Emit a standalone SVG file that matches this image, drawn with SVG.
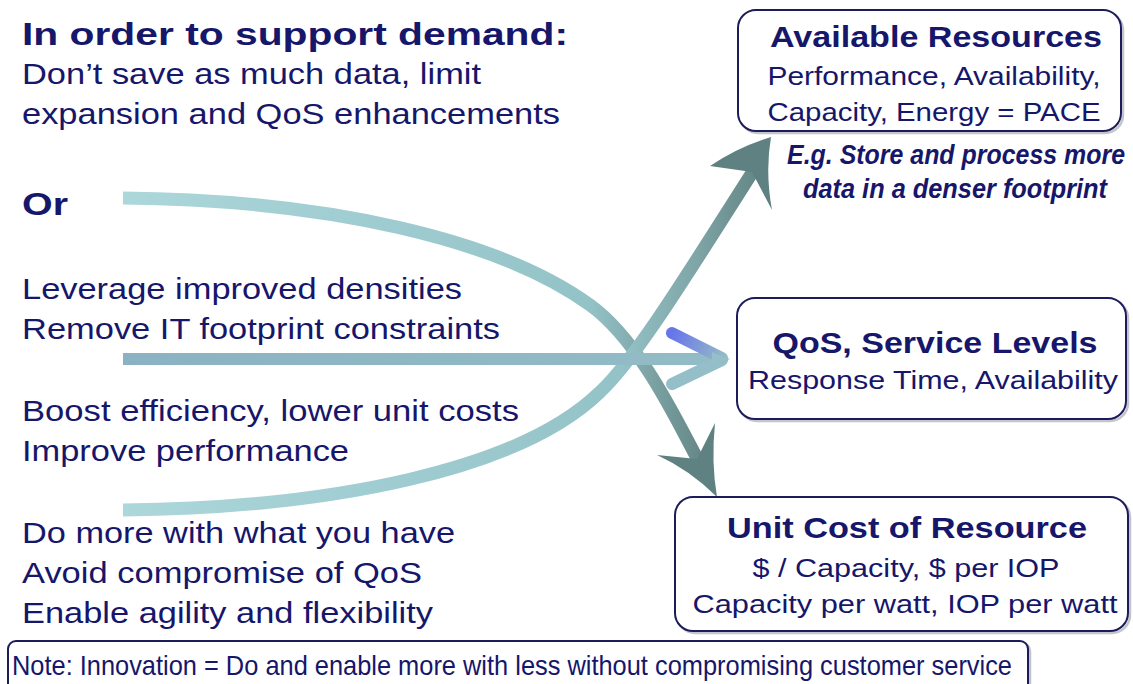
<svg xmlns="http://www.w3.org/2000/svg" width="1133" height="684" viewBox="0 0 1133 684">
  <style>
    .t { font-family: "Liberation Sans", Arial, sans-serif; fill: #16166a; }
    .lb { font-size: 32px; font-weight: bold; }
    .lt { font-size: 29px; }
    .bt { font-size: 30px; font-weight: bold; }
    .bb { font-size: 26px; }
    .bi { font-size: 27px; font-weight: bold; font-style: italic; }
    .note { font-family: "Liberation Sans Narrow", "Liberation Sans", Arial, sans-serif; font-size: 28px; fill: #16166a; }
    .box { fill: #ffffff; stroke: #1c1c5a; stroke-width: 2; }
    .shadow { fill: none; stroke: #8a8a9a; stroke-width: 2.5; opacity: 0.5; }
  </style>
  <defs>
    <linearGradient id="gTop" gradientUnits="userSpaceOnUse" x1="123" y1="0" x2="705" y2="0">
      <stop offset="0" stop-color="#acd7db"/>
      <stop offset="0.8" stop-color="#94c3c7"/>
      <stop offset="0.9" stop-color="#7fa5a7"/>
      <stop offset="1" stop-color="#638585"/>
    </linearGradient>
    <linearGradient id="gBot" gradientUnits="userSpaceOnUse" x1="123" y1="0" x2="760" y2="0">
      <stop offset="0" stop-color="#acd7db"/>
      <stop offset="0.78" stop-color="#94c3c7"/>
      <stop offset="0.9" stop-color="#7fa5a7"/>
      <stop offset="1" stop-color="#638585"/>
    </linearGradient>
    <linearGradient id="gMid" gradientUnits="userSpaceOnUse" x1="123" y1="0" x2="725" y2="0">
      <stop offset="0" stop-color="#8bb2c2"/>
      <stop offset="1" stop-color="#92bcc6"/>
    </linearGradient>
    <linearGradient id="gArm" gradientUnits="userSpaceOnUse" x1="672" y1="333" x2="724" y2="359">
      <stop offset="0" stop-color="#6676ea"/>
      <stop offset="0.5" stop-color="#7f98d8"/>
      <stop offset="1" stop-color="#94bcc6"/>
    </linearGradient>
  </defs>

  <g id="connectors">
    <path d="M123,198 C330,200 500,240 590,305 C640,341 678,423 698,460" fill="none" stroke="url(#gTop)" stroke-width="13"/>
    <path d="M123,510 C330,508 520,470 600,392 C635,360 690,270 757,165" fill="none" stroke="url(#gBot)" stroke-width="13"/>
    <line x1="123" y1="359" x2="722" y2="359" stroke="url(#gMid)" stroke-width="12"/>
    <line x1="672" y1="384" x2="722" y2="360" stroke="#94bec8" stroke-width="12" stroke-linecap="round"/>
    <line x1="672" y1="333" x2="722" y2="358" stroke="url(#gArm)" stroke-width="12" stroke-linecap="round"/>
    <polygon points="712,352 730,359 712,366" fill="#94bec8"/>
    <path d="M717,497 Q690,470 657,455 L697,459 L715,423 Q711,462 717,497 Z" fill="#5f8181"/>
    <path d="M771,137 Q738,147 710,166 L752,172 L772,210 Q765,172 771,137 Z" fill="#5f8181"/>
  </g>

  <g id="left-text" class="t">
    <text class="lb" x="22" y="45" textLength="546" lengthAdjust="spacingAndGlyphs">In order to support demand:</text>
    <text class="lt" x="22" y="84" textLength="459" lengthAdjust="spacingAndGlyphs">Don’t save as much data, limit</text>
    <text class="lt" x="22" y="124" textLength="538" lengthAdjust="spacingAndGlyphs">expansion and QoS enhancements</text>
    <text class="lb" x="22" y="215" textLength="46" lengthAdjust="spacingAndGlyphs">Or</text>
    <text class="lt" x="22" y="299" textLength="440" lengthAdjust="spacingAndGlyphs">Leverage improved densities</text>
    <text class="lt" x="22" y="339" textLength="478" lengthAdjust="spacingAndGlyphs">Remove IT footprint constraints</text>
    <text class="lt" x="22" y="421" textLength="497" lengthAdjust="spacingAndGlyphs">Boost efficiency, lower unit costs</text>
    <text class="lt" x="22" y="461" textLength="327" lengthAdjust="spacingAndGlyphs">Improve performance</text>
    <text class="lt" x="22" y="543" textLength="433" lengthAdjust="spacingAndGlyphs">Do more with what you have</text>
    <text class="lt" x="22" y="583" textLength="400" lengthAdjust="spacingAndGlyphs">Avoid compromise of QoS</text>
    <text class="lt" x="22" y="623" textLength="411" lengthAdjust="spacingAndGlyphs">Enable agility and flexibility</text>
  </g>

  <g id="node-available">
    <rect class="shadow" x="740" y="12" width="383" height="121" rx="18"/>
    <rect class="box" x="738" y="10" width="383" height="121" rx="18"/>
    <text class="t bt" x="936" y="47" text-anchor="middle" textLength="332" lengthAdjust="spacingAndGlyphs">Available Resources</text>
    <text class="t bb" x="934" y="85" text-anchor="middle" textLength="333" lengthAdjust="spacingAndGlyphs">Performance, Availability,</text>
    <text class="t bb" x="934" y="121" text-anchor="middle" textLength="333" lengthAdjust="spacingAndGlyphs">Capacity, Energy = PACE</text>
  </g>

  <g id="label-example" class="t">
    <text class="bi" x="956" y="164" text-anchor="middle" textLength="338" lengthAdjust="spacingAndGlyphs">E.g. Store and process more</text>
    <text class="bi" x="955" y="198" text-anchor="middle" textLength="304" lengthAdjust="spacingAndGlyphs">data in a denser footprint</text>
  </g>

  <g id="node-qos">
    <rect class="shadow" x="739" y="300" width="389" height="121" rx="18"/>
    <rect class="box" x="737" y="298" width="389" height="121" rx="18"/>
    <text class="t bt" x="935" y="353" text-anchor="middle" textLength="325" lengthAdjust="spacingAndGlyphs">QoS, Service Levels</text>
    <text class="t bb" x="933" y="389" text-anchor="middle" textLength="370" lengthAdjust="spacingAndGlyphs">Response Time, Availability</text>
  </g>

  <g id="node-unitcost">
    <rect class="shadow" x="677" y="499" width="453" height="134" rx="18"/>
    <rect class="box" x="675" y="497" width="453" height="134" rx="18"/>
    <text class="t bt" x="907" y="538" text-anchor="middle" textLength="360" lengthAdjust="spacingAndGlyphs">Unit Cost of Resource</text>
    <text class="t bb" x="906" y="577" text-anchor="middle" textLength="307" lengthAdjust="spacingAndGlyphs">$ / Capacity, $ per IOP</text>
    <text class="t bb" x="905" y="613" text-anchor="middle" textLength="425" lengthAdjust="spacingAndGlyphs">Capacity per watt, IOP per watt</text>
  </g>

  <g id="node-note">
    <rect class="shadow" x="10" y="643" width="1020" height="60" rx="8"/>
    <rect class="box" x="8" y="641" width="1020" height="60" rx="8"/>
    <text class="note" x="12" y="675" textLength="1000" lengthAdjust="spacingAndGlyphs">Note: Innovation = Do and enable more with less without compromising customer service</text>
  </g>
</svg>
